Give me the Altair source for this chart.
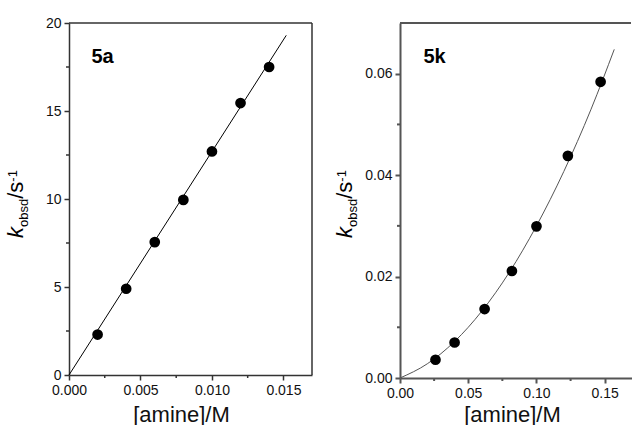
import altair as alt
import pandas as pd

FONT = "Liberation Sans"

# ---- panel 5a data ----
a_x = [0.002, 0.004, 0.006, 0.008, 0.010, 0.012, 0.014]
a_y = [2.3, 4.9, 7.55, 9.95, 12.7, 15.45, 17.5]
a_fit_x = [0.0, 0.0152]
a_fit_y = [0.0, 19.3]
a_xticks = [0.0, 0.005, 0.010, 0.015]
a_xminor = [0.0025, 0.0075, 0.0125]
a_yticks = [0, 5, 10, 15, 20]
a_yminor = [2.5, 7.5, 12.5, 17.5]

# ---- panel 5k data ----
k_x = [0.026, 0.040, 0.062, 0.082, 0.100, 0.123, 0.147]
k_y = [0.0036, 0.0070, 0.0136, 0.0211, 0.0299, 0.0438, 0.0584]
k_fit_x = [0.0, 0.02, 0.04, 0.06, 0.08, 0.10, 0.12, 0.14, 0.157]
k_fit_y = [0.0, 0.0028, 0.0072, 0.0132, 0.0208, 0.0300, 0.0407, 0.0530, 0.0648]
k_xticks = [0.0, 0.05, 0.10, 0.15]
k_xminor = [0.025, 0.075, 0.125]
k_yticks = [0.0, 0.02, 0.04, 0.06]
k_yminor = [0.01, 0.03, 0.05]

ONE = alt.Data(values=[{"a": 1}])


def txt(text, x, y, size, style="normal", weight="normal", angle=270, align="left", baseline="alphabetic"):
    return alt.Chart(ONE).mark_text(
        text=text, angle=angle, align=align, baseline=baseline, font=FONT,
        fontSize=size, fontStyle=style, fontWeight=weight, color="black"
    ).encode(x=alt.value(x), y=alt.value(y))


def ytitle(bx, sub_dx, sup_dx):
    return [
        txt("k", bx, 215, 22, style="italic"),
        txt("obsd", bx + sub_dx, 204, 13),
        txt("/s", bx, 175.8, 22),
        txt("-1", bx + sup_dx, 158.7, 13),
    ]


def panel(xs, ys, fx, fy, xdom, ydom, xt, xm, yt, ym, xfmt, yfmt, W, H,
          col, lw, label, title_pad, fit_color, right_border, extra, ytitle_layers):
    pts = pd.DataFrame({"x": xs, "y": ys})
    fit = pd.DataFrame({"x": fx, "y": fy})
    xs_ = alt.Scale(domain=xdom, nice=False, zero=False)
    ys_ = alt.Scale(domain=ydom, nice=False, zero=False)
    xaxis = alt.Axis(values=xt, format=xfmt, grid=False, tickSize=5, tickColor=col,
                     tickWidth=lw, domainColor=col, domainWidth=lw, labelFont=FONT,
                     labelFontSize=14, labelColor="#111", labelPadding=3,
                     title="[amine]/M", titleFont=FONT, titleFontSize=22,
                     titleFontWeight="normal", titleColor="#111", titlePadding=title_pad,
                     titleX=112, labelFlush=False)
    yaxis = alt.Axis(values=yt, format=yfmt, grid=False, tickSize=5, tickColor=col,
                     tickWidth=lw, domainColor=col, domainWidth=lw, labelFont=FONT,
                     labelFontSize=14, labelColor="#111", labelPadding=3, title=None,
                     labelFlush=False)
    line = alt.Chart(fit).mark_line(color=fit_color, strokeWidth=1, interpolate="monotone").encode(
        x=alt.X("x:Q", scale=xs_, axis=xaxis), y=alt.Y("y:Q", scale=ys_, axis=yaxis))
    dots = alt.Chart(pts).mark_circle(color="black", opacity=1, size=115).encode(
        x=alt.X("x:Q", scale=xs_), y=alt.Y("y:Q", scale=ys_))
    xmin = alt.Chart(pd.DataFrame({"x": xm})).mark_rule(color=col, strokeWidth=lw).encode(
        x=alt.X("x:Q", scale=xs_), y=alt.value(H), y2=alt.value(H + 3))
    ymin = alt.Chart(pd.DataFrame({"y": ym})).mark_rule(color=col, strokeWidth=lw).encode(
        y=alt.Y("y:Q", scale=ys_), x=alt.value(0), x2=alt.value(-3))
    top = alt.Chart(ONE).mark_rule(color=col, strokeWidth=lw).encode(
        x=alt.value(0), x2=alt.value(W - (0 if right_border else 1)), y=alt.value(0))
    layers = [line, dots, xmin, ymin, top]
    if right_border:
        layers.append(alt.Chart(ONE).mark_rule(color=col, strokeWidth=lw).encode(
            x=alt.value(W), y=alt.value(0), y2=alt.value(H)))
    layers.append(txt(label, 33.5 if label == "5a" else 34.5, 34, 20, weight="bold",
                      angle=0, align="center", baseline="middle"))
    layers += ytitle_layers
    layers += extra
    return alt.layer(*layers).properties(width=W, height=H)


anchor = alt.Chart(ONE).mark_rule(opacity=0, strokeWidth=0.1).encode(
    x=alt.value(-69), x2=alt.value(-69), y=alt.value(-23), y2=alt.value(-23))

left = panel(a_x, a_y, a_fit_x, a_fit_y, [0, 0.017], [0, 20], a_xticks, a_xminor,
             a_yticks, a_yminor, ".3f", "d", 243, 352, "#333", 1.5, "5a", 7, "black",
             True, [anchor], ytitle(-46, 5, -6))
right = panel(k_x, k_y, k_fit_x, k_fit_y, [0, 0.17], [0, 0.07], k_xticks, k_xminor,
              k_yticks, k_yminor, ".2f", ".2f", 232, 355, "#555", 2, "5k", 4, "#555",
              False, [], ytitle(-48, 5, -6))

chart = alt.hconcat(left, right, spacing=88, bounds="flush").properties(
    padding=0, background="white"
).configure_view(stroke=None)

chart.save("out.html", embed_options={"renderer": "svg", "actions": False})
